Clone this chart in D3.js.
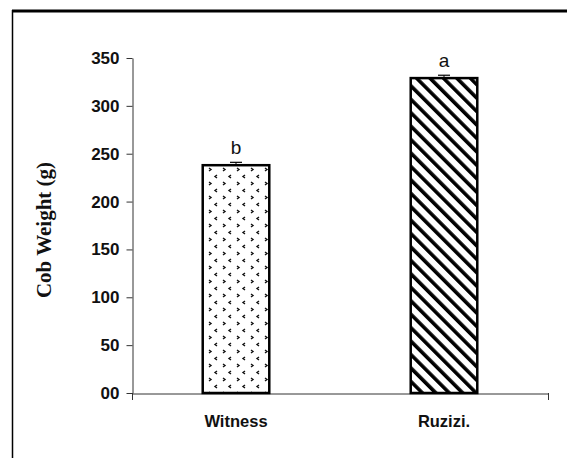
<!DOCTYPE html>
<html><head><meta charset="utf-8">
<script src="https://cdn.jsdelivr.net/npm/d3@7"></script>
<style>html,body{margin:0;padding:0;background:#fff}svg{display:block}</style>
</head><body>
<script>
const categories = ["Witness", "Ruzizi."];
const values = [238, 329];
const errors = [3, 3];
const letters = ["b", "a"];
const yTicks = [0, 50, 100, 150, 200, 250, 300, 350];
const yTickLabels = ["00", "50", "100", "150", "200", "250", "300", "350"];
const yTitle = "Cob Weight (g)";

const W = 567, H = 458;
const svg = d3.select("body").append("svg").attr("width", W).attr("height", H);

// frame
svg.append("line").attr("x1", 12).attr("x2", W).attr("y1", 11).attr("y2", 11).attr("stroke", "#000").attr("stroke-width", 3);
svg.append("line").attr("x1", 12.5).attr("x2", 12.5).attr("y1", 10).attr("y2", H).attr("stroke", "#000").attr("stroke-width", 1.5);

const defs = svg.append("defs");
// dotted confetti pattern
const p1 = defs.append("pattern").attr("id", "confetti").attr("patternUnits", "userSpaceOnUse")
  .attr("width", 14).attr("height", 14).attr("x", 208).attr("y", 202);
p1.append("rect").attr("width", 14).attr("height", 14).attr("fill", "#fff");
p1.append("path").attr("d", "M9,1 L7,2.5 L9,4").attr("fill", "none").attr("stroke", "#111").attr("stroke-width", 1.4);
p1.append("path").attr("d", "M1,8 L3,9.5 L1,11").attr("fill", "none").attr("stroke", "#111").attr("stroke-width", 1.4);
// diagonal stripes
const p2 = defs.append("pattern").attr("id", "stripes").attr("patternUnits", "userSpaceOnUse")
  .attr("width", 9.5).attr("height", 9.5).attr("patternTransform", "rotate(-45)");
p2.append("rect").attr("width", 9.5).attr("height", 9.5).attr("fill", "#fff");
p2.append("rect").attr("x", 0).attr("y", 0).attr("width", 3.6).attr("height", 9.5).attr("fill", "#000");
const fills = ["url(#confetti)", "url(#stripes)"];

const x = d3.scaleBand().domain(categories).range([132, 548]).paddingInner(0.68).paddingOuter(0.34);
const y = d3.scaleLinear().domain([0, 350]).range([393, 58]);

// y axis
const yAxis = d3.axisLeft(y).tickValues(yTicks).tickFormat((d, i) => yTickLabels[i]).tickSize(6).tickSizeOuter(0);
const gy = svg.append("g").attr("transform", "translate(132.5,0)").call(yAxis);
gy.select(".domain").attr("stroke", "#333");
gy.selectAll(".tick line").attr("stroke", "#333");
gy.selectAll(".tick text").attr("x", -13).attr("font-family", "Liberation Sans, Arial, sans-serif")
  .attr("font-weight", "bold").attr("font-size", 17).attr("fill", "#111");

// x axis
const xAxis = d3.axisBottom(x).tickSize(0).tickSizeOuter(0);
const gx = svg.append("g").attr("transform", "translate(0,393.5)").call(xAxis);
gx.select(".domain").attr("stroke", "#333");
gx.selectAll(".tick text").attr("dy", 0).attr("y", 33).attr("font-family", "Liberation Sans, Arial, sans-serif")
  .attr("font-weight", "bold").attr("font-size", 16.5).attr("fill", "#111");
// end ticks on x axis
[x.range()[0], x.range()[1]].forEach(px => {
  svg.append("line").attr("x1", px + 0.5).attr("x2", px + 0.5).attr("y1", 393).attr("y2", 400).attr("stroke", "#333");
});

// bars
svg.selectAll("rect.bar").data(categories).enter().append("rect").attr("class", "bar")
  .attr("x", d => x(d)).attr("width", x.bandwidth())
  .attr("y", (d, i) => y(values[i])).attr("height", (d, i) => y(0) - y(values[i]))
  .attr("fill", (d, i) => fills[i]).attr("stroke", "#000").attr("stroke-width", 2.5);

// error bars
categories.forEach((c, i) => {
  const cx = x(c) + x.bandwidth() / 2;
  svg.append("line").attr("x1", cx).attr("x2", cx).attr("y1", y(values[i])).attr("y2", y(values[i] + errors[i])).attr("stroke", "#000").attr("stroke-width", 1);
  svg.append("line").attr("x1", cx - 6).attr("x2", cx + 6).attr("y1", y(values[i] + errors[i])).attr("y2", y(values[i] + errors[i])).attr("stroke", "#000").attr("stroke-width", 1.2);
  svg.append("text").attr("x", cx).attr("y", y(values[i] + errors[i]) - 8).attr("text-anchor", "middle")
    .attr("font-family", "Liberation Sans, Arial, sans-serif").attr("font-size", 19).attr("fill", "#111").text(letters[i]);
});

// y title
svg.append("text").attr("transform", "translate(51,230) rotate(-90)").attr("text-anchor", "middle")
  .attr("font-family", "Liberation Serif, Times New Roman, serif").attr("font-weight", "bold").attr("font-size", 21)
  .attr("fill", "#111").text(yTitle);
</script>
</body></html>
